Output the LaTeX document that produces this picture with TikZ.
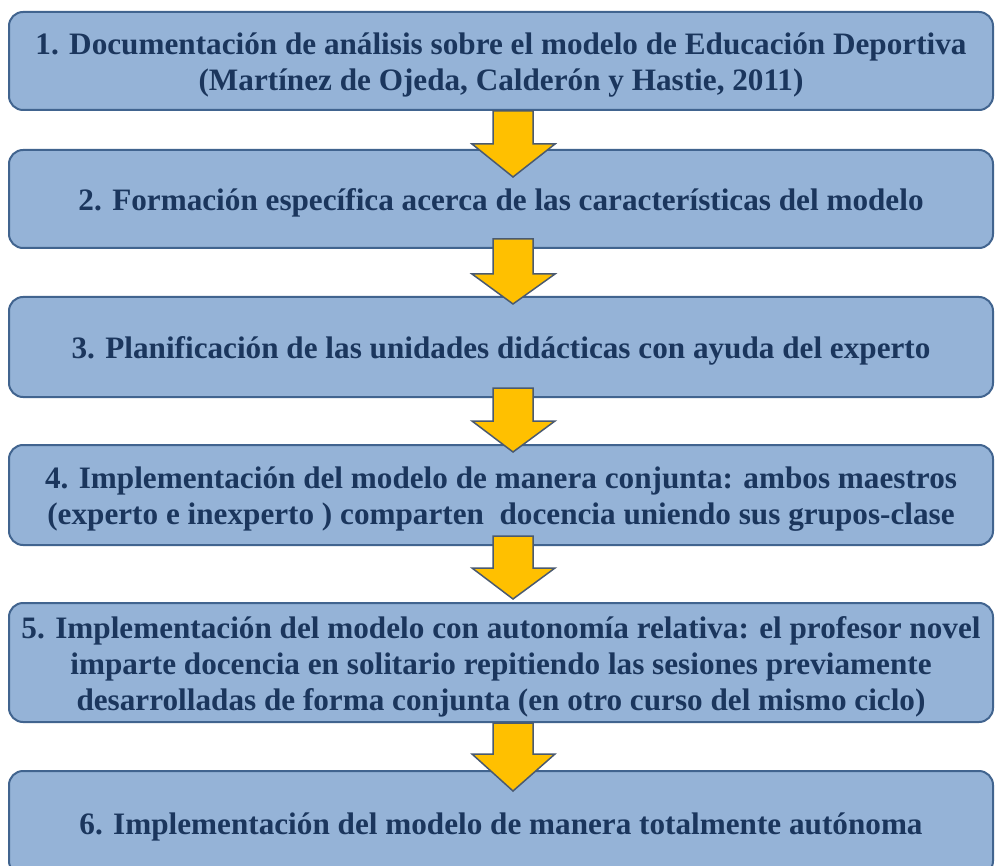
\documentclass[tikz,border=0pt]{standalone}
\usepackage{fontspec}
\setmainfont{Liberation Serif}
\usetikzlibrary{calc}
\definecolor{boxfill}{HTML}{95B3D7}
\definecolor{boxline}{HTML}{41648F}
\definecolor{txtcol}{HTML}{1B365D}
\definecolor{arrfill}{HTML}{FFC000}
\definecolor{arrline}{HTML}{4A5A70}
\newcommand{\garrow}[5]{%
  \draw[arr] ($(#1.south)+(-8,#3)$) -- ($(#1.south)+(32,#3)$) -- ($(#1.south)+(32,#4)$)
    -- ($(#1.south)+(54,#4)$) -- ($(#2.north)+(12,#5)$) -- ($(#1.south)+(-29,#4)$)
    -- ($(#1.south)+(-8,#4)$) -- cycle;}
\tikzset{
  box/.style={draw=boxline, line width=2pt, fill=boxfill, rounded corners=14pt,
    minimum width=984pt, inner sep=0pt, align=center, text=txtcol,
    font=\fontsize{31.2}{36}\selectfont\bfseries},
  arr/.style={draw=arrline, line width=1.5pt, fill=arrfill, line join=miter}
}
\newcommand{\lowr}{\rule{0pt}{30pt}}
\begin{document}
\begin{tikzpicture}[x=1pt,y=-1pt]
\useasboundingbox (0,0) rectangle (995,866);
\clip (0,0) rectangle (995,866);
\fill[white] (0,0) rectangle (995,866);
\node[box, minimum height=98pt] (b1) at (501,61) {\lowr 1. Documentación de análisis sobre el modelo de Educación Deportiva\\(Martínez de Ojeda, Calderón y Hastie, 2011)};
\node[box, minimum height=98pt] (b2) at (501,199) {\lowr 2. Formación específica acerca de las características del modelo};
\node[box, minimum height=100pt] (b3) at (501,347) {\lowr 3. Planificación de las unidades didácticas con ayuda del experto};
\node[box, minimum height=100pt] (b4) at (501,495) {\lowr 4. Implementación del modelo de manera conjunta: ambos maestros\\(experto e inexperto ) comparten\ \ docencia uniendo sus grupos-clase};
\node[box, minimum height=119pt] (b5) at (501,662.5) {\lowr 5. Implementación del modelo con autonomía relativa: el profesor novel\\imparte docencia en solitario repitiendo las sesiones previamente\\desarrolladas de forma conjunta (en otro curso del mismo ciclo)};
\node[box, minimum height=104pt] (b6) at (501,823) {\lowr 6. Implementación del modelo de manera totalmente autónoma};
\garrow{b1}{b2}{0}{33}{28}
\garrow{b2}{b3}{-10}{25}{8}
\garrow{b3}{b4}{-10}{23}{8}
\garrow{b4}{b5}{-10}{22}{-3}
\garrow{b5}{b6}{0}{31}{21}
\end{tikzpicture}
\end{document}
